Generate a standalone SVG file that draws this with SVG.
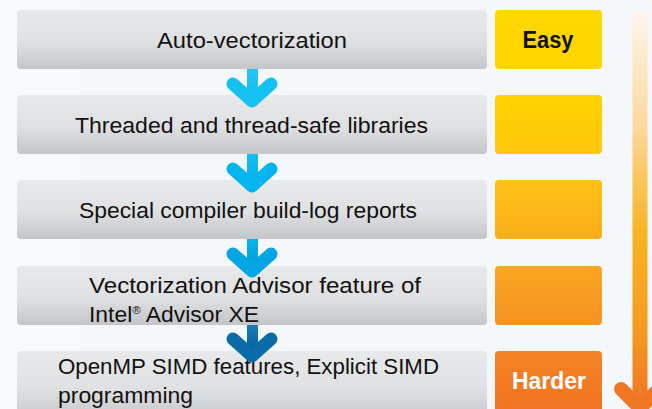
<svg xmlns="http://www.w3.org/2000/svg" width="652" height="409" viewBox="0 0 652 409">
  <defs>
    <linearGradient id="grayFill" x1="0" y1="0" x2="0" y2="1">
      <stop offset="0" stop-color="#e8e9eb"/>
      <stop offset="0.55" stop-color="#dfe0e2"/>
      <stop offset="1" stop-color="#c4c5c8"/>
    </linearGradient>
    <linearGradient id="easeArrow" x1="0" y1="10" x2="0" y2="409" gradientUnits="userSpaceOnUse">
      <stop offset="0" stop-color="#fdf7ee"/>
      <stop offset="0.3" stop-color="#fbd79a"/>
      <stop offset="0.55" stop-color="#f8b523"/>
      <stop offset="0.8" stop-color="#f59a21"/>
      <stop offset="1" stop-color="#ef7423"/>
    </linearGradient>
    <linearGradient id="lvl1" x1="0" y1="0" x2="0" y2="1"><stop offset="0" stop-color="#ffd800"/><stop offset="1" stop-color="#ffd400"/></linearGradient>
    <linearGradient id="lvl2" x1="0" y1="0" x2="0" y2="1"><stop offset="0" stop-color="#ffd200"/><stop offset="1" stop-color="#fec60c"/></linearGradient>
    <linearGradient id="lvl3" x1="0" y1="0" x2="0" y2="1"><stop offset="0" stop-color="#fec116"/><stop offset="1" stop-color="#fbae1a"/></linearGradient>
    <linearGradient id="lvl4" x1="0" y1="0" x2="0" y2="1"><stop offset="0" stop-color="#f9a720"/><stop offset="1" stop-color="#f69222"/></linearGradient>
    <linearGradient id="lvl5" x1="0" y1="0" x2="0" y2="1"><stop offset="0" stop-color="#f48423"/><stop offset="1" stop-color="#f26f22"/></linearGradient>
    <linearGradient id="blue1" x1="0" y1="0" x2="0" y2="1"><stop offset="0" stop-color="#28c6f2"/><stop offset="1" stop-color="#10bff2"/></linearGradient>
    <linearGradient id="blue2" x1="0" y1="0" x2="0" y2="1"><stop offset="0" stop-color="#17bdf0"/><stop offset="1" stop-color="#03b3ee"/></linearGradient>
    <linearGradient id="blue3" x1="0" y1="0" x2="0" y2="1"><stop offset="0" stop-color="#0bb2ec"/><stop offset="1" stop-color="#009ddc"/></linearGradient>
    <linearGradient id="blue4" x1="0" y1="0" x2="0" y2="1"><stop offset="0" stop-color="#1a7db8"/><stop offset="1" stop-color="#005f9c"/></linearGradient>
  </defs>
  <style>
    .step { fill: url(#grayFill); }
    .label { font-family: "Liberation Sans", Arial, sans-serif; font-size: 22px; fill: #111111; }
    .tag { font-family: "Liberation Sans", Arial, sans-serif; font-size: 23px; font-weight: bold; }
    .head { fill: none; stroke-width: 13; stroke-linecap: round; stroke-linejoin: round; }
  </style>

  <rect width="652" height="409" fill="#f4f8fb"/>
  <rect x="0" y="0" width="80" height="409" fill="#f7fafd"/>

  <!-- difficulty scale arrow -->
  <g id="scale">
    <line x1="640" y1="12" x2="640" y2="404" stroke="url(#easeArrow)" stroke-width="15"/>
    <polyline points="621,389 640,408 659,389" fill="none" stroke="#ef7623" stroke-width="14" stroke-linecap="round" stroke-linejoin="round"/>
  </g>

  <g id="step1">
    <rect class="step" x="17" y="10" width="470" height="59" rx="4"/>
    <text class="label" x="252" y="48" text-anchor="middle" textLength="190" lengthAdjust="spacingAndGlyphs">Auto-vectorization</text>
  </g>
  <g id="step2">
    <rect class="step" x="17" y="95" width="470" height="59" rx="4"/>
    <text class="label" x="75" y="133" textLength="353" lengthAdjust="spacingAndGlyphs">Threaded and thread-safe libraries</text>
  </g>
  <g id="step3">
    <rect class="step" x="17" y="180" width="470" height="59" rx="4"/>
    <text class="label" x="79" y="218" textLength="338" lengthAdjust="spacingAndGlyphs">Special compiler build-log reports</text>
  </g>
  <g id="step4">
    <rect class="step" x="17" y="266" width="470" height="59" rx="4"/>
    <text class="label" x="89" y="293" textLength="332" lengthAdjust="spacingAndGlyphs">Vectorization Advisor feature of</text>
    <text class="label" x="89" y="322" textLength="170" lengthAdjust="spacingAndGlyphs">Intel<tspan font-size="11" dy="-8">®</tspan><tspan dy="8"> Advisor XE</tspan></text>
  </g>
  <g id="step5">
    <rect class="step" x="17" y="351" width="470" height="70" rx="4"/>
    <text class="label" x="58" y="374" textLength="381" lengthAdjust="spacingAndGlyphs">OpenMP SIMD features, Explicit SIMD</text>
    <text class="label" x="58" y="403" textLength="135" lengthAdjust="spacingAndGlyphs">programming</text>
  </g>

  <g id="level1">
    <rect x="495" y="10" width="107" height="59" rx="4" fill="url(#lvl1)"/>
    <text class="tag" x="548" y="48" text-anchor="middle" fill="#111111" textLength="51" lengthAdjust="spacingAndGlyphs">Easy</text>
  </g>
  <g id="level2"><rect x="495" y="95" width="107" height="59" rx="4" fill="url(#lvl2)"/></g>
  <g id="level3"><rect x="495" y="180" width="107" height="59" rx="4" fill="url(#lvl3)"/></g>
  <g id="level4"><rect x="495" y="266" width="107" height="59" rx="4" fill="url(#lvl4)"/></g>
  <g id="level5">
    <rect x="495" y="351" width="107" height="70" rx="4" fill="url(#lvl5)"/>
    <text class="tag" x="549" y="389" text-anchor="middle" fill="#ffffff" textLength="74" lengthAdjust="spacingAndGlyphs">Harder</text>
  </g>

  <!-- step connectors -->
  <g id="connectors">
    <g>
      <rect x="247" y="69" width="11" height="26" fill="url(#blue1)"/>
      <polyline class="head" points="233,84 252,101 271,84" stroke="#15c0f2"/>
    </g>
    <g>
      <rect x="247" y="154" width="11" height="26" fill="url(#blue2)"/>
      <polyline class="head" points="233,169 252,186 271,169" stroke="#05b5ef"/>
    </g>
    <g>
      <rect x="247" y="239" width="11" height="26" fill="url(#blue3)"/>
      <polyline class="head" points="233,254 252,271 271,254" stroke="#03a6e3"/>
    </g>
    <g>
      <rect x="247" y="325" width="11" height="26" fill="url(#blue4)"/>
      <polyline class="head" points="233,339 252,356 271,339" stroke="#0b6aa8"/>
    </g>
  </g>
</svg>
